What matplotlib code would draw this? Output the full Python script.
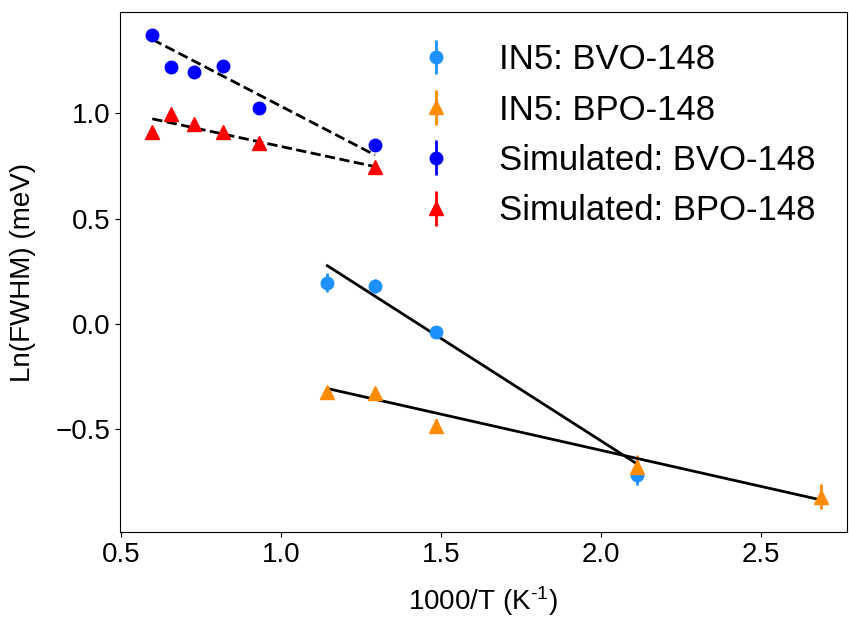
import numpy as np
import matplotlib
matplotlib.use("Agg")
from matplotlib import pyplot as plt

plt.rcParams['font.family'] = ['Liberation Sans', 'DejaVu Sans']
plt.rcParams['mathtext.default'] = 'regular'

# IN5 measurements
in5_bvo_x = [1.145, 1.294, 1.486, 2.114]
in5_bvo_y = [0.196, 0.180, -0.039, -0.717]
in5_bvo_err = [0.045, 0.035, 0.02, 0.045]

in5_bpo_x = [1.145, 1.294, 1.486, 2.114, 2.688]
in5_bpo_y = [-0.321, -0.327, -0.484, -0.677, -0.820]
in5_bpo_err = [0.01, 0.01, 0.035, 0.055, 0.06]

# simulated
sim_x = [0.598, 0.657, 0.728, 0.818, 0.932, 1.294]
sim_bvo_y = [1.372, 1.220, 1.196, 1.224, 1.025, 0.848]
sim_bpo_y = [0.913, 0.997, 0.948, 0.911, 0.857, 0.744]
sim_err = [0, 0, 0, 0, 0, 0]

# fit lines (end points)
fit_in5_bvo_x = [1.145, 2.114]
fit_in5_bvo_y = [0.277, -0.665]
fit_in5_bpo_x = [1.145, 2.688]
fit_in5_bpo_y = [-0.306, -0.835]
fit_sim_x = [0.598, 1.294]
fit_sim_bvo_y = [1.351, 0.802]
fit_sim_bpo_y = [0.974, 0.747]

fig = plt.figure(figsize=(8.49, 6.22), dpi=100)
ax = fig.add_axes([0.1413, 0.1447, 0.856, 0.836])

ax.errorbar(in5_bvo_x, in5_bvo_y, yerr=in5_bvo_err, fmt='o', color='dodgerblue',
            ms=9, elinewidth=2, label='IN5: BVO-148')
ax.errorbar(in5_bpo_x, in5_bpo_y, yerr=in5_bpo_err, fmt='^', color='darkorange',
            ms=10, elinewidth=2, label='IN5: BPO-148')
ax.errorbar(sim_x, sim_bvo_y, yerr=sim_err, fmt='o', color='blue',
            ms=9, elinewidth=2, label='Simulated: BVO-148')
ax.errorbar(sim_x, sim_bpo_y, yerr=sim_err, fmt='^', color='red',
            ms=10, elinewidth=2, label='Simulated: BPO-148')

ax.plot(fit_in5_bvo_x, fit_in5_bvo_y, 'k-', lw=2)
ax.plot(fit_in5_bpo_x, fit_in5_bpo_y, 'k-', lw=2)
ax.plot(fit_sim_x, fit_sim_bvo_y, 'k--', lw=2)
ax.plot(fit_sim_x, fit_sim_bpo_y, 'k--', lw=2)

ax.set_xlabel('1000/T (K$^{\u2010' + '1}$)', fontsize=20, labelpad=12)
ax.set_ylabel('Ln(FWHM) (meV)', fontsize=20, labelpad=14)
ax.tick_params(labelsize=20)
ax.set_xticks([0.5, 1.0, 1.5, 2.0, 2.5])
ax.set_yticks([-0.5, 0.0, 0.5, 1.0])
ax.set_xlim(0.497, 2.768)
ax.set_ylim(-0.987, 1.481)
ax.legend(loc='upper right', frameon=False, fontsize=25, handletextpad=0.8)

fig.savefig('out.png', dpi=100)
